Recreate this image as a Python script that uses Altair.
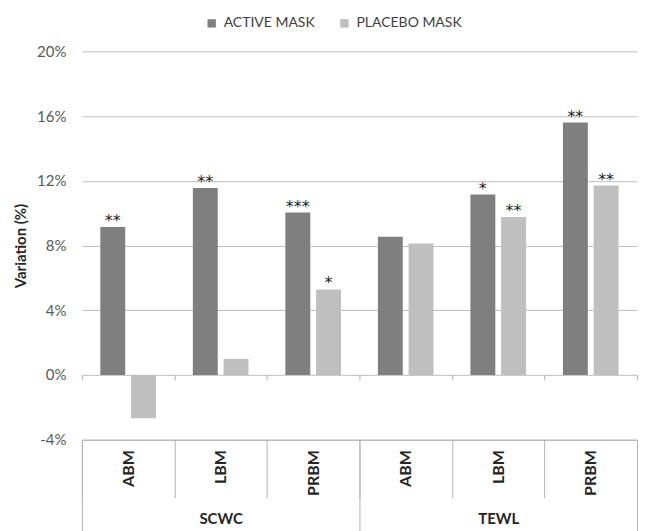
import altair as alt
import pandas as pd

# ---- data ----
groups = ["SCWC", "SCWC", "SCWC", "TEWL", "TEWL", "TEWL"]
categories = ["ABM", "LBM", "PRBM", "ABM", "LBM", "PRBM"]
series_names = ["ACTIVE MASK", "PLACEBO MASK"]
active = [9.15, 11.56, 10.04, 8.54, 11.15, 15.6]
placebo = [-2.67, 1.0, 5.29, 8.13, 9.77, 11.71]
active_stars = ["**", "**", "***", "", "*", "**"]
placebo_stars = ["", "", "*", "", "**", "**"]
y_ticks = [-4, 0, 4, 8, 12, 16, 20]
group_names = ["SCWC", "TEWL"]

keys = [f"{g}|{c}" for g, c in zip(groups, categories)]
rows = []
for k, g, c, a, p, sa, sp in zip(keys, groups, categories, active, placebo,
                                 active_stars, placebo_stars):
    rows.append(dict(key=k, group=g, category=c, series=series_names[0], value=a, stars=sa))
    rows.append(dict(key=k, group=g, category=c, series=series_names[1], value=p, stars=sp))
df = pd.DataFrame(rows)
df_cat = pd.DataFrame({"key": keys})
df_grp = pd.DataFrame({"group": group_names})

W, H = 556, 389
FONT = "Lato"
GRID = "#bfbfbf"
LINE = "#b3b3b3"

x_scale = alt.Scale(domain=keys, paddingInner=0, paddingOuter=0)
xo_scale = alt.Scale(domain=series_names, paddingInner=0.19, paddingOuter=0.6)
y_scale = alt.Scale(domain=[-4, 20], nice=False, zero=True)
color_scale = alt.Scale(domain=series_names, range=["#7f7f7f", "#bfbfbf"])

x_enc = alt.X("key:N", scale=x_scale, sort=keys,
              axis=alt.Axis(orient="bottom", offset=-H * 4 / 24, tickBand="extent",
                            tickSize=5, tickColor=LINE, domain=False, labels=False,
                            title=None, grid=False))
xo_enc = alt.XOffset("series:N", scale=xo_scale, sort=series_names)
y_enc = alt.Y("value:Q", scale=y_scale,
              axis=alt.Axis(values=y_ticks, labelExpr="datum.value + '%'",
                            grid=True, gridColor=GRID, gridWidth=1, domain=False,
                            ticks=False, labelPadding=16, labelFont=FONT,
                            labelFontSize=15, labelColor="#595959",
                            title="Variation (%)", titleFont=FONT, titleFontSize=15,
                            titleFontWeight="bold", titleColor="#262626",
                            titlePadding=8))

bars = alt.Chart(df).mark_bar().encode(
    x=x_enc, xOffset=xo_enc, y=y_enc,
    color=alt.Color("series:N", scale=color_scale, sort=series_names,
                    legend=alt.Legend(orient="none", legendX=123, legendY=-35,
                                      direction="horizontal", title=None,
                                      symbolType="square", symbolSize=70,
                                      symbolStrokeWidth=0, labelFont=FONT,
                                      labelFontSize=14, labelColor="#404040",
                                      columnPadding=22, labelOffset=5, padding=0)),
)

stars = alt.Chart(df).mark_text(baseline="alphabetic", dy=-1, fontSize=16,
                                font="DejaVu Sans", color="#1a1a1a").encode(
    x=x_enc, xOffset=xo_enc, y=y_enc, text="stars:N")

cat_layer = alt.Chart(df_cat).mark_text(opacity=0).encode(
    x=alt.X("key:N", scale=x_scale, sort=keys,
            axis=alt.Axis(orient="bottom", tickBand="extent", tickSize=58,
                          labelPadding=-48, labelAngle=270,
                          labelExpr="split(datum.label, '|')[1]",
                          labelFont=FONT, labelFontSize=16, labelFontWeight="bold",
                          labelColor="#262626", domainColor=LINE, tickColor=LINE,
                          title=None, grid=False)),
    text=alt.value(""),
)

grp_layer = alt.Chart(df_grp).mark_text(opacity=0).encode(
    x=alt.X("group:N", scale=alt.Scale(domain=group_names, paddingInner=0, paddingOuter=0),
            sort=group_names,
            axis=alt.Axis(orient="bottom", tickBand="extent", tickSize=95,
                          labelPadding=72 - 95, labelAngle=0, domain=False,
                          labelFont=FONT, labelFontSize=15, labelFontWeight="bold",
                          labelColor="#262626", tickColor=LINE,
                          title=None, grid=False)),
    text=alt.value(""),
)

chart = alt.layer(alt.layer(bars, stars), cat_layer, grp_layer).resolve_scale(
    x="independent"
).properties(
    width=W, height=H, background="white",
    padding={"left": 5, "top": 8, "right": 0, "bottom": 0},
).configure_view(stroke=None)

chart.save("out.html", embed_options={"renderer": "svg", "actions": False})
